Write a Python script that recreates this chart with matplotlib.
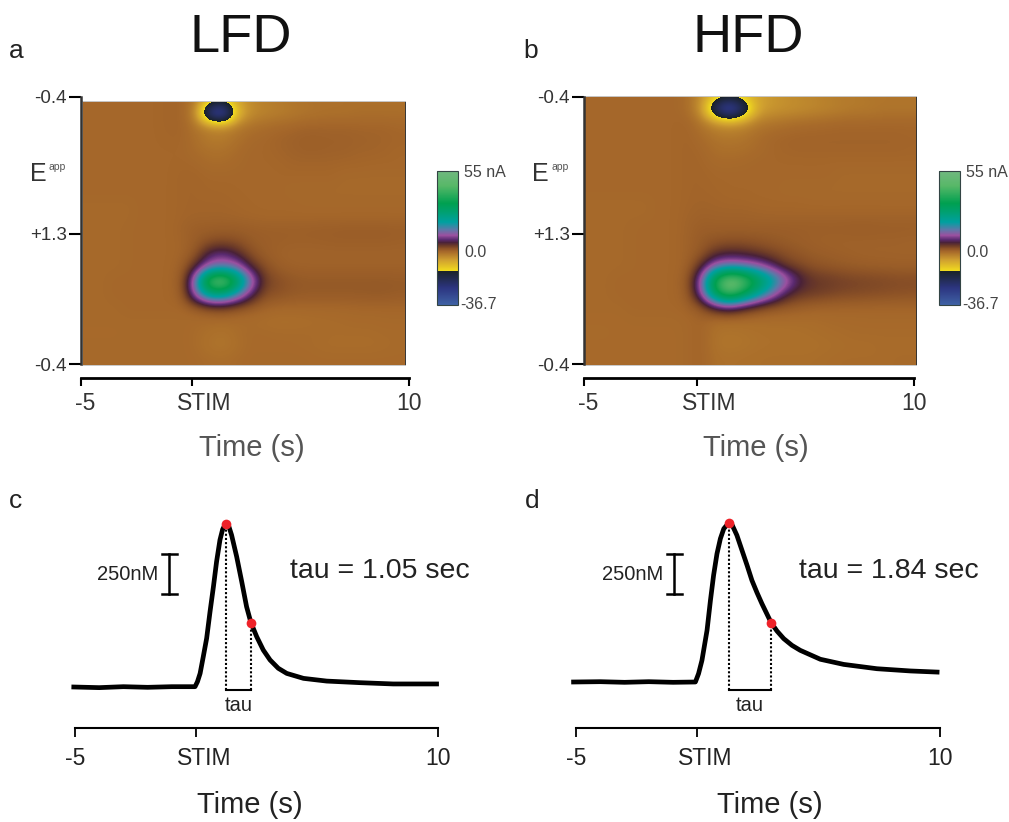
import numpy as np
import matplotlib
matplotlib.use('Agg')
import matplotlib.pyplot as plt
from matplotlib.colors import LinearSegmentedColormap, Normalize
from matplotlib.transforms import ScaledTranslation

plt.rcParams['font.family'] = ['Liberation Sans', 'DejaVu Sans']

W, H = 1009, 822

# colour plots, current in nA, rows run along the scan, columns along time
lfd_current = np.array([
    [0, 0, 0, 0, 0, 0, .2, .2, -2, -9, -10, -6, -3.5, -2.5, -2, -1.5, -1.2, -1, -1, -1, -.8, -.8, -.8, -.8],
    [0, 0, 0, 0, 0, 0, .2, .2, -3.5, -29, -35, -10, -4, -3, -2.5, -2, -1.5, -1.2, -1, -1, -.8, -.8, -.8, -.8],
    [0, 0, 0, 0, 0, 0, .2, .2, -1.5, -3, -3.5, -2, -1, -.6, -.2, 0, .3, .3, .3, .3, .2, .2, .2, 0],
    [0, 0, 0, 0, 0, 0, .1, .1, -.8, -2, -2, -1, -.2, 0, .3, .5, .7, .7, .6, .6, .5, .4, .3, .2],
    [0, 0, 0, 0, 0, 0, 0, 0, -.5, -1, -1, -.4, 0, 0, .2, .4, .6, .6, .5, .5, .3, .3, .2, 0],
    [0, 0, 0, 0, 0, 0, 0, .1, 0, -.4, -.4, -.2, 0, 0, 0, .2, .2, .2, .2, .1, .1, 0, 0, 0],
    [0, 0, 0, 0, 0, 0, 0, .2, .2, 0, 0, 0, 0, 0, 0, 0, 0, 0, 0, -.2, -.2, -.2, -.2, -.2],
    [0, 0, 0, 0, 0, 0, 0, .2, .2, .1, .1, 0, 0, 0, 0, -.2, -.2, -.2, -.2, -.2, -.2, -.2, -.2, -.2],
    [-.2, -.2, -.2, -.2, 0, 0, 0, .2, .2, .2, .2, .1, 0, 0, 0, 0, -.1, -.1, -.1, -.1, -.1, -.1, -.1, -.1],
    [-.2, -.2, -.2, -.2, 0, 0, 0, .2, .3, .3, .3, .2, .1, 0, 0, 0, 0, 0, 0, 0, 0, 0, 0, 0],
    [-.2, -.2, -.2, -.1, 0, 0, 0, .4, .8, .8, .9, .9, .8, .7, .7, .7, .7, .8, .8, .9, .9, .9, .9, .8],
    [-.2, -.2, -.2, -.1, 0, 0, 0, .2, 1, 2.2, 2.6, 2.2, 1.2, .8, .7, .6, .6, .6, .7, .7, .7, .7, .7, .6],
    [-.2, -.2, -.2, -.1, 0, 0, 0, .2, 1.8, 7.5, 9, 6, 2.4, 1, .5, .3, .3, .3, .3, .3, .3, .3, .3, .3],
    [-.2, -.2, -.2, -.1, 0, 0, 0, .6, 6, 13.5, 15, 13.5, 6, 2.5, 1, .6, .5, .5, .5, .5, .5, .5, .5, .5],
    [-.2, -.2, 0, 0, 0, 0, 0, 1, 16, 46, 52, 33, 15, 4, 2.5, 1.6, 1.3, 1.3, 1.3, 1.3, 1.3, 1.3, 1.3, 1.2],
    [-.2, -.2, 0, 0, 0, 0, 0, .8, 13, 25, 25, 17, 8, 2.5, 2, 1.4, 1.2, 1.2, 1.2, 1.2, 1.2, 1.3, 1.3, 1.1],
    [-.2, -.2, -.2, 0, 0, 0, 0, 0, 1, 2.5, 3, 2, 1, .4, 0, 0, 0, 0, 0, 0, .1, .1, .1, .1],
    [-.2, -.2, -.2, -.2, -.2, -.2, -.2, -.2, -.3, -.4, -.4, -.5, -.5, -.7, -.8, -.8, -.7, -.6, -.5, -.4, -.3, -.3, -.2, -.2],
    [-.3, -.3, -.3, -.2, -.2, -.2, -.2, -.2, -.5, -.9, -1.2, -.6, -.3, -.3, -.4, -.4, -.4, -.4, -.5, -.5, -.5, -.5, -.4, -.4],
    [-.2, -.2, -.2, -.2, -.2, -.2, -.2, -.2, -.5, -1.2, -1.5, -.8, -.3, -.3, -.3, -.3, -.4, -.5, -.6, -.6, -.6, -.6, -.5, -.4],
    [-.2, -.2, -.2, -.2, -.2, -.2, -.2, -.2, -.3, -.5, -.6, -.4, -.2, -.2, -.2, -.2, -.2, -.3, -.3, -.3, -.3, -.3, -.3, -.3],
])

hfd_current = np.array([
    [0, 0, 0, 0, 0, 0, 0, -.5, -4, -9, -11, -9, -6, -5, -4, -3.5, -3, -2.5, -2, -2, -1.5, -1.5, -1.5, -1.5],
    [0, 0, 0, 0, 0, 0, 0, -.5, -5, -24, -36, -22, -7, -5, -4.5, -4, -3.5, -3, -2.5, -2, -2, -1.5, -1.5, -1.5],
    [0, 0, 0, 0, 0, 0, 0, .2, -1.5, -4, -5, -4, -2, -1.5, -1, -.6, -.4, -.2, 0, 0, 0, 0, 0, 0],
    [0, 0, 0, 0, 0, 0, 0, .2, -.5, -1.5, -1.8, -1.5, -.6, 0, .2, .3, .3, .3, .3, .3, .3, .3, .3, .2],
    [0, 0, 0, 0, 0, 0, 0, .2, 0, -.8, -1, -.8, -.4, 0, .2, .3, .3, .3, .3, .3, .3, .3, .3, .2],
    [0, 0, 0, 0, 0, 0, 0, .2, .1, -.3, -.3, -.2, 0, 0, 0, 0, 0, 0, 0, 0, 0, 0, 0, 0],
    [0, 0, 0, 0, 0, 0, 0, .2, .2, 0, 0, 0, 0, 0, 0, 0, 0, 0, -.2, -.2, -.2, -.2, -.2, -.2],
    [0, 0, 0, 0, 0, 0, 0, .2, .2, .1, 0, 0, 0, 0, -.2, -.2, -.2, -.2, -.2, -.2, -.2, -.2, -.2, -.2],
    [-.2, -.2, -.2, -.2, -.2, 0, 0, .2, .3, .2, .1, .1, 0, 0, 0, 0, -.1, -.1, -.1, -.1, -.1, -.1, -.1, -.1],
    [-.2, -.2, -.2, -.2, -.2, 0, 0, .3, .5, .4, .4, .4, .3, .2, .2, .2, .2, .2, .2, .2, .2, .2, .2, .2],
    [-.2, -.2, -.2, -.1, 0, 0, 0, .4, .8, .7, .7, .7, .7, .8, .8, .8, .8, .8, .8, .9, .9, .8, .8, .8],
    [-.2, -.2, -.2, -.1, 0, 0, 0, .4, 1.2, 1.6, 1.8, 1.8, 1.6, 1.3, 1, .8, .6, .5, .5, .5, .5, .5, .5, .4],
    [-.2, -.2, -.2, -.1, 0, 0, 0, .4, 1.5, 4.5, 5.5, 5, 4, 3, 2.2, 1.5, 1, .8, .6, .5, .4, .4, .4, .4],
    [-.2, -.2, -.2, -.1, 0, 0, 0, .4, 5, 13, 15, 14, 12, 8, 4, 3, 2, 1.6, 1.3, 1, .9, .8, .7, .7],
    [-.2, -.2, 0, 0, 0, 0, 0, 1, 12, 38, 52, 46, 33, 23, 14, 7, 4.5, 4, 3.5, 3.2, 3, 2.8, 2.6, 2.5],
    [-.2, -.2, 0, 0, 0, 0, 0, .8, 11, 34, 46, 35, 24, 15, 7, 4.5, 4, 3.5, 3, 2.8, 2.6, 2.4, 2.2, 2.1],
    [-.2, -.2, -.2, 0, 0, 0, 0, .3, 2, 7, 9, 6, 3.5, 2, 1.5, 1, .6, .4, .3, .3, .2, .2, .2, .2],
    [-.3, -.3, -.3, -.2, -.2, -.2, -.2, -.1, .2, -.5, -.6, -.6, -.6, -.6, -.6, -.6, -.6, -.4, -.3, -.3, -.2, -.2, -.2, -.2],
    [-.4, -.4, -.3, -.3, -.3, -.3, -.3, -.1, .3, -1.2, -1.3, -1.2, -1, -.9, -.9, -.8, -.7, -.6, -.5, -.4, -.4, -.4, -.4, -.4],
    [-.3, -.3, -.3, -.3, -.3, -.3, -.3, -.1, .3, -1.3, -1.4, -1.3, -1.1, -1, -1, -1, -.9, -.8, -.7, -.6, -.6, -.5, -.5, -.5],
    [-.3, -.3, -.3, -.3, -.3, -.3, -.3, -.1, .3, -.9, -1, -.9, -.8, -.7, -.7, -.7, -.7, -.6, -.5, -.5, -.5, -.5, -.4, -.4],
])

current_min = -36.7
current_max = 55.0
cmap_values = [-36.7, -25, -13.5, -13.4, -6, 0, 2, 4, 6, 8, 11, 15, 20, 27, 33, 45, 55]
cmap_colors = ['#3f62a5', '#2c3580', '#1a2228', '#f2dc1e', '#d0a030', '#a5672a', '#8c5226', '#6b3a28',
               '#4a2238', '#5a2a70', '#9a50a0', '#5a7aa8', '#00a0a0', '#00a070', '#00a050',
               '#58b868', '#70b880']

# traces below the colour plots, time in s and concentration in nM
lfd_time = [-5.05, -4, -3, -2, -1, -0.04, 0.06, 0.17, 0.30, 0.44, 0.58, 0.72, 0.85, 0.99, 1.10, 1.23, 1.34,
            1.47, 1.68, 1.89, 2.09, 2.27, 2.51, 2.78, 3.06, 3.40, 3.75, 4.44, 5.40, 6.78, 8.15, 9.94]
lfd_conc = [0, -4, 2, -2, 2, 2, 33, 85, 189, 304, 471, 627, 783, 919, 985, 1023, 1012,
            950, 815, 658, 502, 402, 314, 231, 169, 117, 85, 54, 37, 27, 19, 19]
hfd_time = [-5.10, -4, -3, -2, -1, -0.08, 0.05, 0.19, 0.40, 0.54, 0.67, 0.81, 0.95, 1.09, 1.29, 1.43, 1.63,
            1.84, 2.05, 2.25, 2.46, 2.66, 3.04, 3.28, 3.56, 3.90, 4.24, 5.07, 6.03, 7.40, 8.78, 9.88]
hfd_conc = [0, 2, -2, 2, -2, 0, 52, 135, 323, 510, 667, 802, 896, 958, 994, 983, 917,
            823, 729, 635, 558, 490, 371, 319, 271, 229, 198, 142, 110, 83, 69, 62]
lfd_peak = (1.24, 1020)
lfd_tau = (2.27, 400)
hfd_peak = (1.29, 994)
hfd_tau = (3.04, 371)

time_ticks = [-5, 0, 10]
time_labels = ['-5', 'STIM', '10']
eapp_labels = ['-0.4', '+1.3', '-0.4']
eapp_ticks = [0, 137, 267]


def px_axes(fig, x0, y0, x1, y1):
    # pixel box, measured from the top left of the picture
    return fig.add_axes([x0 / W, 1 - y1 / H, (x1 - x0) / W, (y1 - y0) / H])


def shift_label(lab, dx, dy=0):
    lab.set_transform(lab.get_transform() + ScaledTranslation(dx / 100, dy / 100, plt.gcf().dpi_scale_trans))


def colour_plot(fig, data, img_box, frame_box, stim_px, cbar_box, norm, cmap):
    ax = px_axes(fig, *img_box)
    im = ax.imshow(data, cmap=cmap, norm=norm, aspect='auto', extent=(-5, 10, data.shape[0], 0),
                   interpolation='bicubic', interpolation_stage='data')
    # first row sits on the top edge of the plot
    ax.set_ylim(data.shape[0], 0.5)
    ax.set_xticks([])
    ax.set_yticks([])
    for s in ax.spines.values():
        s.set_color('#c8c8c8')
        s.set_linewidth(0.7)
    ax.spines['right'].set_color('#333333')

    # axes drawn apart from the image, as in the figure
    x0, y0, x1, y1 = frame_box
    fr = px_axes(fig, x0, y0, x1, y1)
    fr.patch.set_alpha(0)
    fr.set_xlim(-5, 10)
    fr.set_ylim(y1 - y0, 0)
    stim_t = -5 + 15 * (stim_px - x0) / (x1 - x0)
    fr.set_xticks([-5, stim_t, 10])
    fr.set_xticklabels(time_labels, fontsize=16.5, color='#333333')
    fr.set_yticks(eapp_ticks)
    fr.set_yticklabels(eapp_labels, fontsize=13.5, color='#333333')
    fr.tick_params(axis='x', length=6, width=1.5, pad=4)
    fr.tick_params(axis='y', length=9, width=1.5, pad=1)
    fr.spines['top'].set_visible(False)
    fr.spines['right'].set_visible(False)
    fr.spines['left'].set_linewidth(1.8)
    fr.spines['left'].set_color('#333333')
    fr.spines['bottom'].set_linewidth(2)
    fr.spines['left'].set_bounds(0, 267)
    labs = fr.get_xticklabels()
    shift_label(labs[0], 4)
    shift_label(labs[1], 12)
    fr.set_xlabel('Time (s)', fontsize=21, color='#555555')
    fr.xaxis.set_label_coords(0.522, -0.2)
    fr.text(-0.106, 0.726, 'E', transform=fr.transAxes, fontsize=18, color='#333333', ha='right', va='center')
    fr.text(-0.046, 0.75, 'app', transform=fr.transAxes, fontsize=7.5, color='#555555', ha='right', va='center')

    cax = px_axes(fig, *cbar_box)
    cb = fig.colorbar(im, cax=cax)
    cb.set_ticks([current_max, 0, current_min])
    cb.set_ticklabels(['55 nA', '0.0', '-36.7'], fontsize=11.5, color='#444444')
    cb.ax.tick_params(length=0, pad=4.5)
    shift_label(cb.ax.get_yticklabels()[2], -4, 2)
    cb.outline.set_edgecolor('#334444')
    cb.outline.set_linewidth(0.8)


def trace_plot(fig, t, c, peak, tau, box, tau_text, bar_x, tau_text_x, bar_y_nm, xlabel_pos):
    x0, y0, x1, y1, base_px = box
    ax = px_axes(fig, x0, y0, x1, y1)
    nm_per_px = 6.25
    ax.set_xlim(-5, 10)
    ax.set_ylim((base_px - y1) * nm_per_px, (base_px - y0) * nm_per_px)
    ax.plot(t, c, color='black', lw=3.4, solid_joinstyle='round', clip_on=False)
    bottom = (base_px - 690) * nm_per_px
    ax.plot([peak[0], peak[0]], [bottom, peak[1]], color='black', lw=1.5, ls=(0, (1, 1)))
    ax.plot([tau[0], tau[0]], [bottom, tau[1]], color='black', lw=1.5, ls=(0, (1, 1)))
    ax.plot([peak[0], tau[0]], [bottom, bottom], color='black', lw=1.5)
    ax.plot([peak[0], tau[0]], [peak[1], tau[1]], ls='none', marker='o', ms=7, mew=0, color='#ee2229',
            clip_on=False, zorder=5)
    ax.text((peak[0] + tau[0]) / 2, bottom - 15 * nm_per_px, 'tau', fontsize=14.5, color='#222222',
            ha='center', va='center')

    # 250 nM scale bar
    ax.plot([bar_x, bar_x], [bar_y_nm, bar_y_nm + 250], color='black', lw=1.8)
    ax.plot([bar_x - 0.3, bar_x + 0.3], [bar_y_nm, bar_y_nm], color='black', lw=1.8)
    ax.plot([bar_x - 0.3, bar_x + 0.3], [bar_y_nm + 250, bar_y_nm + 250], color='black', lw=1.8)
    ax.text(bar_x - 0.45, bar_y_nm + 125, '250nM', fontsize=14.5, color='#222222', ha='right', va='center')
    ax.text(tau_text_x, bar_y_nm + 145, tau_text, fontsize=20.5, color='#222222', ha='left', va='center')

    ax.set_xticks(time_ticks)
    ax.set_xticklabels(time_labels, fontsize=16.5, color='#222222')
    ax.set_yticks([])
    ax.tick_params(axis='x', length=6.5, width=1.3, pad=7)
    shift_label(ax.get_xticklabels()[1], 8)
    ax.spines['top'].set_visible(False)
    ax.spines['right'].set_visible(False)
    ax.spines['left'].set_visible(False)
    ax.spines['bottom'].set_linewidth(1.5)
    ax.set_xlabel('Time (s)', fontsize=21, color='#222222')
    ax.xaxis.set_label_coords(xlabel_pos, -0.29)
    ax.patch.set_alpha(0)


fig = plt.figure(figsize=(W / 100, H / 100), dpi=100)

pos = [(v - current_min) / (current_max - current_min) for v in cmap_values]
cmap = LinearSegmentedColormap.from_list('fscv', list(zip(pos, cmap_colors)), N=1024)
norm = Normalize(current_min, current_max)

colour_plot(fig, lfd_current, (82, 101, 405, 365), (81, 97, 409, 378), 192, (437, 171, 458, 305), norm, cmap)
colour_plot(fig, hfd_current, (584, 96, 916, 365), (584, 97, 914, 378), 697, (939, 171, 960, 305), norm, cmap)

trace_plot(fig, lfd_time, lfd_conc, lfd_peak, lfd_tau, (75, 510, 438, 728, 687), 'tau = 1.05 sec', -1.1, 3.9, 580, 0.482)
trace_plot(fig, hfd_time, hfd_conc, hfd_peak, hfd_tau, (576, 510, 940, 728, 682), 'tau = 1.84 sec', -0.95, 4.2, 550, 0.533)

fig.text(241 / W, 1 - 38 / H, 'LFD', fontsize=39, color='#111111', ha='center', va='center')
fig.text(748 / W, 1 - 38 / H, 'HFD', fontsize=39, color='#111111', ha='center', va='center')
for letter, x, y in [('a', 16, 51), ('b', 531, 51), ('c', 16, 501), ('d', 532, 501)]:
    fig.text(x / W, 1 - y / H, letter, fontsize=19, color='#222222', ha='center', va='center')

fig.savefig('out.png', dpi=100)
